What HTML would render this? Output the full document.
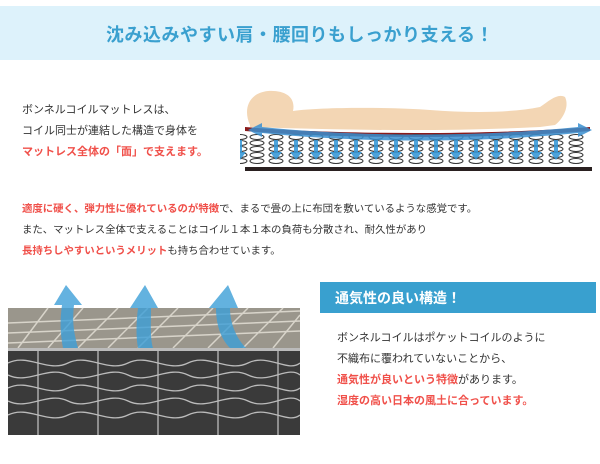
<!DOCTYPE html>
<html><head><meta charset="utf-8"><style>
body{margin:0;width:600px;height:464px;background:#fff;position:relative;overflow:hidden;font-family:"Liberation Sans","Noto Sans CJK JP",sans-serif;color:#333}
.a{position:absolute;white-space:nowrap}
.t{font-size:11px;line-height:14px}
.m{font-size:10.4px;line-height:14px}
.r{color:#f0504a;font-weight:bold}
</style></head><body>
<div class="a" style="left:0;top:6px;width:600px;height:54px;background:#ddf2fb"></div>
<div class="a" style="left:0;top:21px;width:600px;text-align:center;font-size:18px;font-weight:bold;color:#3aa0cf;letter-spacing:0.5px">沈み込みやすい肩・腰回りもしっかり支える！</div>

<div class="a t" style="left:22px;top:103px">ボンネルコイルマットレスは、</div>
<div class="a t" style="left:22px;top:124px">コイル同士が連結した構造で身体を</div>
<div class="a t r" style="left:22px;top:145px">マットレス全体の「面」で支えます。</div>

<svg class="a" style="left:240px;top:85px" width="360" height="90">
<path d="M10,40 C3,25 8,8 28,6 C45,5 56,12 53,26 C80,22 150,22 190,25 C230,28 270,28 300,22 C310,15 318,8 325,12 C330,22 322,35 315,40 L300,42 C200,47 100,45 10,42Z" fill="#f3d6b4"/>
<path d="M5,42 C100,50 250,50 350,42 L350,46 C250,54 100,54 5,46Z" fill="#8a1a1a"/>
<g fill="none" stroke="#333" stroke-width="1">
<g id="c"><ellipse cx="0" cy="52" rx="7" ry="2.5"/><ellipse cx="0" cy="58" rx="7" ry="2.5"/><ellipse cx="0" cy="64" rx="7" ry="2.5"/><ellipse cx="0" cy="70" rx="7" ry="2.5"/><ellipse cx="0" cy="76" rx="7" ry="2.5"/></g>
</g>
<g fill="none" stroke="#333" stroke-width="1">
<use href="#c" x="17"/><use href="#c" x="36"/><use href="#c" x="56"/><use href="#c" x="76"/><use href="#c" x="96"/><use href="#c" x="116"/><use href="#c" x="136"/><use href="#c" x="156"/><use href="#c" x="176"/><use href="#c" x="196"/><use href="#c" x="216"/><use href="#c" x="236"/><use href="#c" x="256"/><use href="#c" x="276"/><use href="#c" x="296"/><use href="#c" x="316"/><use href="#c" x="336"/>
</g>
<rect x="5" y="82" width="347" height="4" fill="#2a2020"/>
<path d="M8,45 L22,38 L22,42 C120,52 240,52 338,42 L338,38 L352,45 L338,52 L338,48 C240,58 120,58 22,48 L22,52Z" fill="#3a8fd0" opacity="0.85"/>
<g fill="#3a9ad8" opacity="0.9">
<path id="d" d="M-2,55 h4 v12 h4 l-6,8 l-6,-8 h4z"/>
</g>
<g fill="#3a9ad8" opacity="0.9"><use href="#d" x="36"/><use href="#d" x="56"/><use href="#d" x="76"/><use href="#d" x="96"/><use href="#d" x="116"/><use href="#d" x="136"/><use href="#d" x="156"/><use href="#d" x="176"/><use href="#d" x="196"/><use href="#d" x="216"/><use href="#d" x="236"/><use href="#d" x="256"/><use href="#d" x="276"/><use href="#d" x="296"/><use href="#d" x="316"/></g>
</svg>

<div class="a m" style="left:22px;top:203px"><span class="r">適度に硬く、弾力性に優れているのが特徴</span>で、まるで畳の上に布団を敷いているような感覚です。</div>
<div class="a m" style="left:22px;top:224px">また、マットレス全体で支えることはコイル１本１本の負荷も分散され、耐久性があり</div>
<div class="a m" style="left:22px;top:245px"><span class="r">長持ちしやすいというメリット</span>も持ち合わせています。</div>

<svg class="a" style="left:8px;top:283px" width="292" height="152">
<rect x="0" y="25" width="292" height="127" fill="#3a3a3a"/>
<rect x="0" y="25" width="292" height="40" fill="#9a968c"/>
<g stroke="#e8e4da" stroke-width="1.5" fill="none" opacity="0.8">
<path d="M0,40 L292,28"/><path d="M0,50 L292,38"/><path d="M0,60 L292,48"/>
<path d="M10,65 L40,25"/><path d="M40,65 L75,25"/><path d="M70,65 L110,25"/><path d="M100,65 L140,25"/><path d="M130,65 L170,25"/><path d="M165,65 L205,25"/><path d="M200,65 L240,25"/><path d="M235,65 L275,25"/><path d="M265,65 L292,32"/>
</g>
<rect x="0" y="65" width="292" height="3" fill="#bbb"/>
<g stroke="#bbb" stroke-width="1.3" fill="none">
<path d="M0,80 C20,70 40,90 60,80 C80,70 100,90 120,80 C140,70 160,90 180,80 C200,70 220,90 240,80 C260,70 280,90 292,80"/>
<path d="M0,92 C20,102 40,82 60,92 C80,102 100,82 120,92 C140,102 160,82 180,92 C200,102 220,82 240,92 C260,102 280,82 292,92"/>
<path d="M0,105 C20,95 40,115 60,105 C80,95 100,115 120,105 C140,95 160,115 180,105 C200,95 220,115 240,105 C260,95 280,115 292,105"/>
<path d="M0,118 C20,128 40,108 60,118 C80,128 100,108 120,118 C140,128 160,108 180,118 C200,128 220,108 240,118 C260,128 280,108 292,118"/>
<path d="M0,132 C20,122 40,142 60,132 C80,122 100,142 120,132 C140,122 160,142 180,132 C200,122 220,142 240,132 C260,122 280,142 292,132"/>
<path d="M30,68 V152 M90,68 V152 M150,68 V152 M210,68 V152 M270,68 V152"/>
</g>
<g fill="#3d9fd8" opacity="0.8">
<path d="M58,2 L74,22 L66,22 C64,40 66,50 70,65 L55,65 C52,50 52,35 54,22 L46,22Z"/>
<path d="M137,2 L150,25 L143,25 C143,40 142,55 145,65 L130,65 C128,55 128,40 130,25 L122,25Z"/>
<path d="M220,2 L230,25 L222,25 C222,40 228,55 238,65 L222,65 C212,55 208,40 208,25 L201,25Z"/>
</g>
</svg>

<div class="a" style="left:320px;top:282px;width:276px;height:31px;background:#39a0cf"></div>
<div class="a" style="left:335px;top:288px;font-size:14px;font-weight:bold;color:#fff">通気性の良い構造！</div>
<div class="a t" style="left:337px;top:331px">ボンネルコイルはポケットコイルのように</div>
<div class="a t" style="left:337px;top:352px">不織布に覆われていないことから、</div>
<div class="a t" style="left:337px;top:373px"><span class="r">通気性が良いという特徴</span>があります。</div>
<div class="a t r" style="left:337px;top:394px">湿度の高い日本の風土に合っています。</div>
</body></html>
